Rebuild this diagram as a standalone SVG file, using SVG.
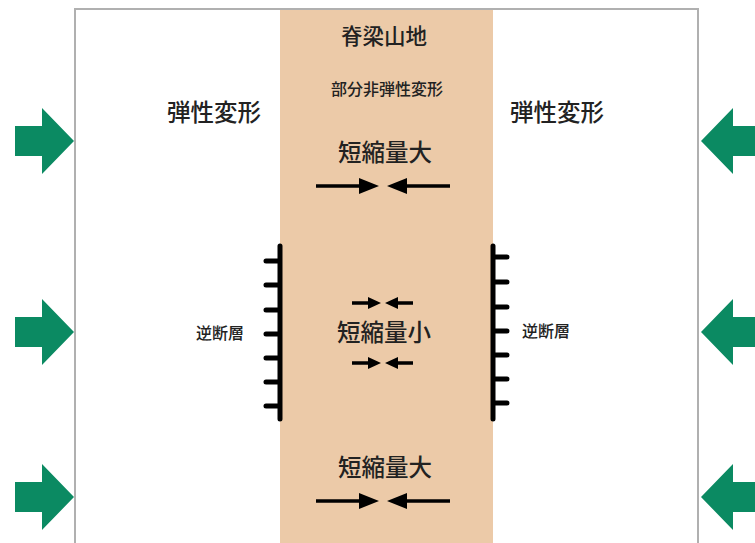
<svg xmlns="http://www.w3.org/2000/svg" width="755" height="543" viewBox="0 0 755 543">
<defs>
<style>
.t{font-family:"Noto Sans CJK JP","Noto Sans",sans-serif;fill:#222;text-anchor:middle;font-weight:500}
.big{font-size:23.5px}
.mid{font-size:21.5px}
.sm{font-size:16px}
.fault{stroke:#000;stroke-width:5;stroke-linecap:round;fill:none}
.green{fill:#0B8A62}
.ar{stroke:#000;stroke-width:3.5;fill:none}
</style>
<path id="ga" d="M0,-15 H27 V-33 L59,0 L27,33 V15 H0 Z"/>
</defs>
<rect x="0" y="0" width="755" height="543" fill="#fff"/>
<rect id="frame" x="75" y="9" width="623" height="545" fill="#fff" stroke="#b0b0b0" stroke-width="2"/>
<rect id="ridge" x="280" y="10" width="213" height="533" fill="#ECCAA8"/>

<g id="push-left">
<use href="#ga" class="green" transform="translate(15,141)"/>
<use href="#ga" class="green" transform="translate(15,332)"/>
<use href="#ga" class="green" transform="translate(15,497)"/>
</g>
<g id="push-right">
<use href="#ga" class="green" transform="translate(760,141) scale(-1,1)"/>
<use href="#ga" class="green" transform="translate(760,332) scale(-1,1)"/>
<use href="#ga" class="green" transform="translate(760,497) scale(-1,1)"/>
</g>

<g id="labels">
<text class="t mid" x="384" y="44">脊梁山地</text>
<text class="t sm" x="387" y="95">部分非弾性変形</text>
<text class="t big" x="214" y="121">弾性変形</text>
<text class="t big" x="557" y="121">弾性変形</text>
</g>

<g id="fault-left">
<path class="fault" d="M280,246 V419 M266,261 H280 M266,285 H280 M266,310 H280 M266,334 H280 M266,358 H280 M266,382 H280 M266,406 H280"/>
<text class="t sm" x="220" y="339">逆断層</text>
</g>
<g id="fault-right">
<path class="fault" d="M493,246 V419 M493,257 H507 M493,282 H507 M493,307 H507 M493,331 H507 M493,355 H507 M493,379 H507 M493,403 H507"/>
<text class="t sm" x="546" y="337">逆断層</text>
</g>

<g id="short-top">
<text class="t big" x="385" y="161">短縮量大</text>
<path class="ar" d="M316,186 H362 M450,186 H404"/>
<path d="M379,186 L359,178 V194 Z M387,186 L407,178 V194 Z" fill="#000"/>
</g>
<g id="short-mid">
<text class="t big" x="384" y="341">短縮量小</text>
<path class="ar" d="M352,303 H370 M413,303 H395 M352,363 H370 M413,363 H395" stroke-width="3"/>
<path d="M381,303 L368,297 V309 Z M385,303 L398,297 V309 Z M381,363 L368,357 V369 Z M385,363 L398,357 V369 Z" fill="#000"/>
</g>
<g id="short-bottom">
<text class="t big" x="385" y="476">短縮量大</text>
<path class="ar" d="M316,501 H362 M450,501 H404"/>
<path d="M379,501 L359,493 V509 Z M387,501 L407,493 V509 Z" fill="#000"/>
</g>
</svg>
